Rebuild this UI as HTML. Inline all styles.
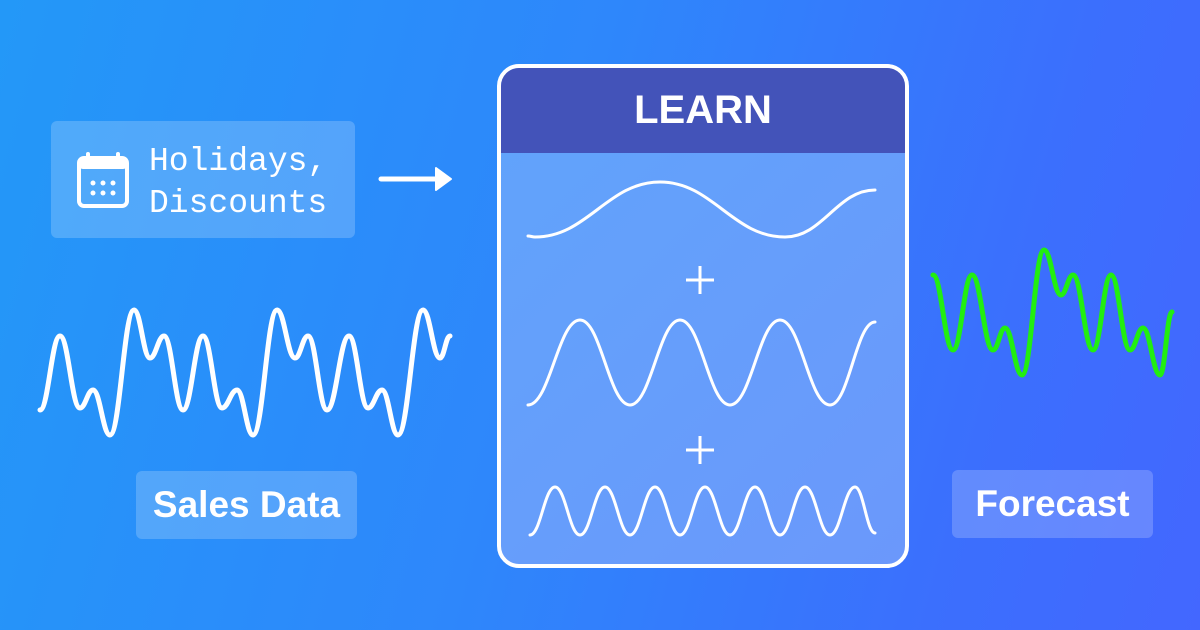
<!DOCTYPE html>
<html><head><meta charset="utf-8"><style>
html,body{margin:0;padding:0}
body{width:1200px;height:630px;overflow:hidden;position:relative;background:linear-gradient(105deg,#2398f8 0%,#2e87fb 45%,#3b6ffd 80%,#4367ff 100%);font-family:"Liberation Sans",sans-serif}
.box{position:absolute;background:rgba(255,255,255,0.2);border-radius:6px;color:#fff}
.lbl{font-weight:bold;font-size:37px;display:flex;align-items:center;justify-content:center}
svg{position:absolute;left:0;top:0}
</style></head><body>
<div class="box" style="left:51px;top:121px;width:304px;height:117px">
  <div style="position:absolute;left:98px;top:20px;font-family:'Liberation Mono',monospace;font-size:33px;line-height:42px">Holidays,<br>Discounts</div>
</div>
<div class="box lbl" style="left:136px;top:471px;width:221px;height:68px">Sales Data</div>
<div class="box lbl" style="left:952px;top:470px;width:201px;height:68px">Forecast</div>
<div style="position:absolute;left:497px;top:64px;width:404px;height:496px;border:4px solid #fff;border-radius:22px;overflow:hidden;background:linear-gradient(135deg,#60a4fb,#6b98fb)">
  <div style="height:85px;background:#4353b9;color:#fff;font-weight:bold;font-size:40px;display:flex;align-items:center;justify-content:center">LEARN</div>
</div>
<svg width="1200" height="630">
  <g fill="#fff">
    <rect x="79" y="158" width="48" height="48" rx="5" fill="none" stroke="#fff" stroke-width="4"/>
    <rect x="79" y="158" width="48" height="11" rx="4"/>
    <rect x="86" y="152" width="4" height="10" rx="2"/><rect x="116" y="152" width="4" height="10" rx="2"/>
    <circle cx="93" cy="183" r="2.5"/><circle cx="103" cy="183" r="2.5"/><circle cx="113" cy="183" r="2.5"/>
    <circle cx="93" cy="193" r="2.5"/><circle cx="103" cy="193" r="2.5"/><circle cx="113" cy="193" r="2.5"/>
  </g>
  <g>
    <line x1="381" y1="179" x2="440" y2="179" stroke="#fff" stroke-width="5" stroke-linecap="round"/>
    <path d="M436 168 L451 179 L436 190 Z" fill="#fff" stroke="#fff" stroke-width="2" stroke-linejoin="round"/>
  </g>
  <g stroke="#fff" stroke-width="3">
    <line x1="686" y1="280" x2="714" y2="280"/><line x1="700" y1="266" x2="700" y2="294"/>
    <line x1="686" y1="450" x2="714" y2="450"/><line x1="700" y1="436" x2="700" y2="464"/>
  </g>
  <g id="waves"></g>
</svg>
<script>
const salesX=[40,60,80,93,110,134,150,164,183,203,222,237,253,277,295,308,327,349,368,382,398,423,440,450];
const salesY=[410,336,408,390,435,310,358,336,410,336,408,390,435,310,358,336,410,336,408,390,435,310,358,336];
const foreX=[933,953,972,993,1005,1022,1044,1061,1073,1093,1111,1130,1143,1160,1172];
const foreY=[275,350,275,350,328,375,250,295,275,350,275,350,328,375,312];
const c1X=[528,535,660,785,875];
const c1Y=[236,237,182,237,190];
const c2X=[528,580,630,680,730,780,830,875];
const c2Y=[405,320,405,320,405,320,405,322];
const c3X=[530,555,580,605,630,655,680,705,730,755,780,805,830,855,875];
const c3Y=[535,487,535,487,535,487,535,487,535,487,535,487,535,487,533];
function pathOf(xs,ys){
  let d='M'+xs[0]+' '+ys[0];
  for(let i=1;i<xs.length;i++){const dx=(xs[i]-xs[i-1])*0.42;
    d+=` C${xs[i-1]+dx} ${ys[i-1]} ${xs[i]-dx} ${ys[i]} ${xs[i]} ${ys[i]}`;}
  return d;
}
const g=document.getElementById('waves');
function add(name,xs,ys,color,w){
  const p=document.createElementNS('http://www.w3.org/2000/svg','path');
  p.setAttribute('d',pathOf(xs,ys));p.setAttribute('fill','none');
  p.setAttribute('stroke',color);p.setAttribute('stroke-width',w);p.setAttribute('stroke-linecap','round');
  
  
  g.appendChild(p);
}
add('sales-wave',salesX,salesY,'#fff',5);
add('forecast-wave',foreX,foreY,'#22ee11',5);
add('trend-component',c1X,c1Y,'#fff',3);
add('seasonal-component',c2X,c2Y,'#fff',3);
add('weekly-component',c3X,c3Y,'#fff',3);
</script>
</body></html>
